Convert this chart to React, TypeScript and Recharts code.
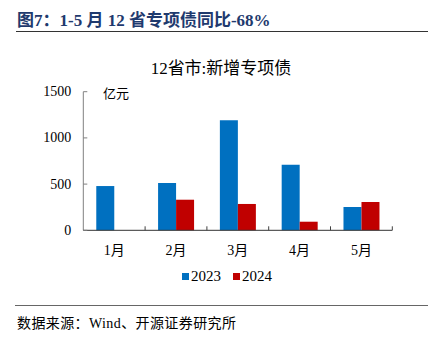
import { Bar, BarChart, XAxis, YAxis } from 'recharts';

const months = ['1月', '2月', '3月', '4月', '5月'];
const y2023 = [479, 512, 1190, 710, 252];
const y2024 = [0, 331, 285, 93, 306];
const yTicks = [0, 500, 1000, 1500];

const BLUE = '#0070C0';
const RED = '#C00000';
const FONT = '"Liberation Serif", "Noto Sans CJK SC", serif';

const data = months.map((m, i) => ({ month: m, a: y2023[i], b: y2024[i] }));

function YTick(props: any) {
  const { x, y, payload } = props;
  return (
    <g>
      <line x1={x} x2={x + 4} y1={y} y2={y} stroke="#808080" />
      <text x={x - 12} y={y} textAnchor="end" dominantBaseline="central" fontSize={14} fontFamily={FONT} fill="#000">
        {payload.value}
      </text>
    </g>
  );
}

function XTick(props: any) {
  const { x, y, payload } = props;
  const half = payload.offset ?? 31;
  return (
    <g>
      <line x1={x + half} x2={x + half} y1={y} y2={y - 4} stroke="#404040" />
      <text x={x} y={y + 20} textAnchor="middle" dominantBaseline="central" fontSize={14} fontFamily={FONT} fill="#000">
        {payload.value}
      </text>
    </g>
  );
}

export default function App() {
  return (
    <div style={{ position: 'absolute', left: 0, top: 0, width: 437, height: 340, background: '#fff', fontFamily: FONT }}>
      <div style={{ position: 'absolute', left: 17, top: 6, fontSize: 17, fontWeight: 700, color: '#1F3A6E', whiteSpace: 'nowrap' }}>
        图7：1-5 月 12 省专项债同比-68%
      </div>
      <div style={{ position: 'absolute', left: 16, top: 31, width: 412, height: 1, background: '#333' }} />
      <div style={{ position: 'absolute', left: 0, top: 54, width: 442, textAlign: 'center', fontSize: 17, color: '#000' }}>
        12省市:新增专项债
      </div>
      <div style={{ position: 'absolute', left: 103, top: 83, fontSize: 13, color: '#000' }}>亿元</div>
      <div style={{ position: 'absolute', left: 0, top: 0 }}>
        <BarChart
          width={437}
          height={340}
          data={data}
          margin={{ top: 91.7, right: 44.7, left: 33.3, bottom: 79.7 }}
          barCategoryGap="21%"
          barGap={0}
        >
          <YAxis
            width={50}
            domain={[0, 1500]}
            ticks={yTicks}
            axisLine={{ stroke: '#808080' }}
            tickLine={false}
            tickSize={0}
            tickMargin={0}
            tick={<YTick />}
          />
          <XAxis
            dataKey="month"
            height={30}
            axisLine={{ stroke: '#333' }}
            tickLine={false}
            tickSize={0}
            tickMargin={0}
            tick={<XTick />}
          />
          <Bar dataKey="a" fill={BLUE} isAnimationActive={false} />
          <Bar dataKey="b" fill={RED} isAnimationActive={false} />
        </BarChart>
      </div>
      <div style={{ position: 'absolute', left: 182, top: 268, display: 'flex', alignItems: 'center', fontSize: 15, color: '#000' }}>
        <span style={{ width: 7, height: 7, background: BLUE, display: 'inline-block', marginRight: 2 }} />
        <span style={{ marginRight: 12 }}>2023</span>
        <span style={{ width: 7, height: 7, background: RED, display: 'inline-block', marginRight: 2 }} />
        <span>2024</span>
      </div>
      <div style={{ position: 'absolute', left: 15, top: 305, width: 413, height: 1, background: '#666' }} />
      <div style={{ position: 'absolute', left: 17, top: 312, fontSize: 14, letterSpacing: 0.4, color: '#000', whiteSpace: 'nowrap' }}>
        数据来源：Wind、开源证券研究所
      </div>
    </div>
  );
}
